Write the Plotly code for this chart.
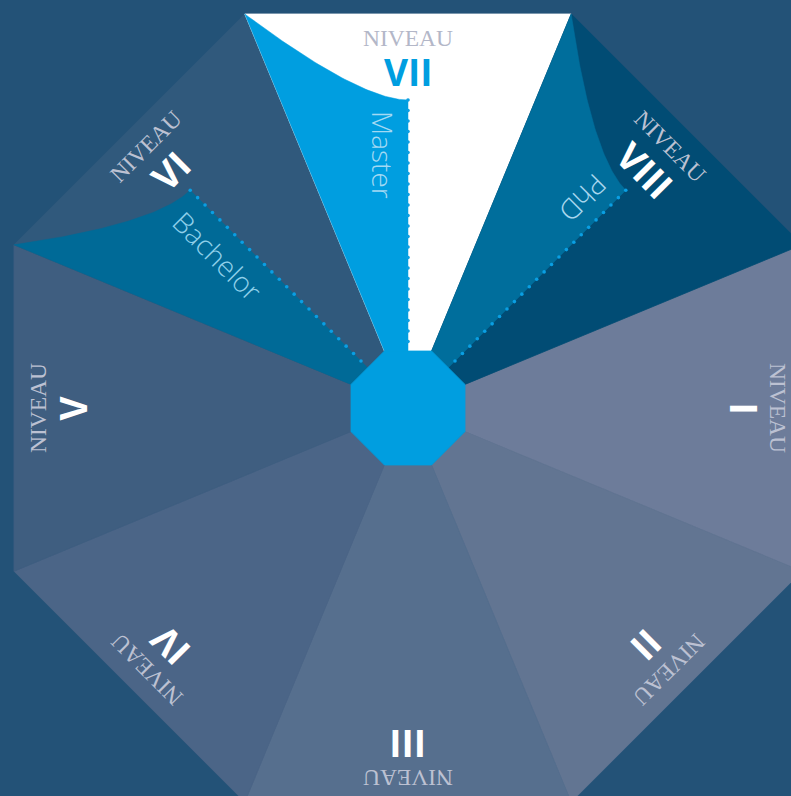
import numpy as np
import plotly.graph_objects as go

# ---------------- data ----------------
levels = ["I", "II", "III", "IV", "V", "VI", "VII", "VIII"]
directions_deg = [0, -45, -90, -135, 180, 135, 90, 45]   # direction of each sector (math angle)
sector_colors = ["#6d7c9a", "#627592", "#566f8e", "#4b6587",
                 "#3f5e80", "#30597c", "#ffffff", "#014c74"]
numeral_colors = ["#ffffff", "#ffffff", "#ffffff", "#ffffff",
                  "#ffffff", "#ffffff", "#009ee0", "#ffffff"]
niveau_colors = ["#bcc1d2", "#bcc1d2", "#bcc1d2", "#bcc1d2",
                 "#bcc1d2", "#bcc1d2", "#b3b7c8", "#bcc1d2"]
niveau_word = "NIVEAU"

degree_levels = ["VI", "VII", "VIII"]
degree_names = ["Bachelor", "Master", "PhD"]
degree_fill = ["#006a97", "#009ee0", "#006e9c"]
degree_text_colors = ["#8fd0ea", "#a3d9f3", "#a9d7ee"]

# ---------------- layout / geometry ----------------
W, H = 791, 796
BG = "#235277"
CX, CY = 408.0, 408.0
R_IN, R_OUT = 57.0, 394.0          # apothems of inner and outer octagons
HALF = np.tan(np.radians(22.5))
CURVE_END_R = 308.0
CURVE_CTRL = (48.0, 308.0)         # (perpendicular, radial) in sector frame
DOT_STEP = 10.5
R_NIVEAU, R_NUMERAL = 370.0, 336.5
degree_label_r = [242.0, 253.0, 272.0]
degree_label_p = [27.0, 25.0, 24.0]


def frame(theta_deg):
    t = np.radians(theta_deg)
    u = np.array([np.cos(t), -np.sin(t)])
    v = np.array([-np.sin(t), -np.cos(t)])
    return u, v


def to_screen(theta_deg, p, r):
    u, v = frame(theta_deg)
    p = np.asarray(p, dtype=float)
    r = np.asarray(r, dtype=float)
    x = CX + r * u[0] + p * v[0]
    y = CY + r * u[1] + p * v[1]
    return x, y


def sector_polygon(theta_deg):
    p = [R_IN * HALF, R_OUT * HALF, -R_OUT * HALF, -R_IN * HALF]
    r = [R_IN, R_OUT, R_OUT, R_IN]
    return to_screen(theta_deg, p, r)


def degree_polygon(theta_deg):
    t = np.linspace(0, 1, 60)
    p0 = np.array([R_OUT * HALF, R_OUT])
    c = np.array(CURVE_CTRL)
    p2 = np.array([0.0, CURVE_END_R])
    bez = ((1 - t) ** 2)[:, None] * p0 + (2 * t * (1 - t))[:, None] * c + (t ** 2)[:, None] * p2
    ps = [R_IN * HALF] + list(bez[:, 0]) + [0.0]
    rs = [R_IN] + list(bez[:, 1]) + [R_IN]
    return to_screen(theta_deg, ps, rs)


def text_angle(theta_deg, extra=0.0):
    a = (90.0 - theta_deg + extra) % 360.0
    if a > 180:
        a -= 360
    return a


fig = go.Figure()

# sectors
for lvl, th, col in zip(levels, directions_deg, sector_colors):
    x, y = sector_polygon(th)
    fig.add_trace(go.Scatter(x=list(x) + [x[0]], y=list(y) + [y[0]], mode="lines",
                             fill="toself", fillcolor=col,
                             line=dict(color=col, width=0.8),
                             hoverinfo="skip", name="Niveau " + lvl))

# degree regions + dotted lines
for lvl, name, fcol in zip(degree_levels, degree_names, degree_fill):
    th = directions_deg[levels.index(lvl)]
    x, y = degree_polygon(th)
    fig.add_trace(go.Scatter(x=list(x) + [x[0]], y=list(y) + [y[0]], mode="lines",
                             fill="toself", fillcolor=fcol,
                             line=dict(color=fcol, width=0.5),
                             hoverinfo="skip", name=name))
    rs = np.arange(CURVE_END_R, R_IN + 2, -DOT_STEP)
    dx, dy = to_screen(th, np.zeros_like(rs), rs)
    fig.add_trace(go.Scatter(x=dx, y=dy, mode="markers",
                             marker=dict(color="#0a9fe3", size=3.6, line=dict(width=0)),
                             hoverinfo="skip", name=name + " line"))

# inner octagon
ang = np.radians(22.5 + 45 * np.arange(8))
rv = R_IN / np.cos(np.radians(22.5))
ox = CX + rv * np.cos(ang)
oy = CY - rv * np.sin(ang)
fig.add_trace(go.Scatter(x=list(ox) + [ox[0]], y=list(oy) + [oy[0]], mode="lines",
                         fill="toself", fillcolor="#009ee0",
                         line=dict(color="#009ee0", width=0.8),
                         hoverinfo="skip", name="centre"))

annotations = []
for lvl, th, ncol, vcol in zip(levels, directions_deg, numeral_colors, niveau_colors):
    ang_t = text_angle(th)
    x, y = to_screen(th, 0.0, R_NIVEAU)
    annotations.append(dict(x=float(x), y=float(y), xref="x", yref="y", text=niveau_word,
                            showarrow=False, textangle=ang_t, xanchor="center", yanchor="middle",
                            font=dict(family="Liberation Serif, DejaVu Serif, serif", size=23.5, color=vcol)))
    x, y = to_screen(th, 0.0, R_NUMERAL)
    annotations.append(dict(x=float(x), y=float(y), xref="x", yref="y", text="<b>" + lvl + "</b>",
                            showarrow=False, textangle=ang_t, xanchor="center", yanchor="middle",
                            font=dict(family="Open Sans, Noto Sans, sans-serif", size=37, color=ncol)))

for lvl, name, tcol, rr, pp in zip(degree_levels, degree_names, degree_text_colors,
                                   degree_label_r, degree_label_p):
    th = directions_deg[levels.index(lvl)]
    x, y = to_screen(th, pp, rr)
    annotations.append(dict(x=float(x), y=float(y), xref="x", yref="y", text=name,
                            showarrow=False, textangle=text_angle(th, 90), xanchor="center",
                            yanchor="middle",
                            font=dict(family="Open Sans, Noto Sans, sans-serif", size=28,
                                      color=tcol, weight=300)))

fig.update_layout(
    width=W, height=H, margin=dict(l=0, r=0, t=0, b=0),
    paper_bgcolor=BG, plot_bgcolor=BG, showlegend=False,
    xaxis=dict(range=[0, W], visible=False, fixedrange=True),
    yaxis=dict(range=[H, 0], visible=False, fixedrange=True),
    annotations=annotations,
)

fig.write_html(
    "out.html",
    config={"displayModeBar": False},
    post_script="document.body.style.margin='0';document.body.style.overflow='hidden';"
                "document.body.style.background='" + BG + "';",
)
